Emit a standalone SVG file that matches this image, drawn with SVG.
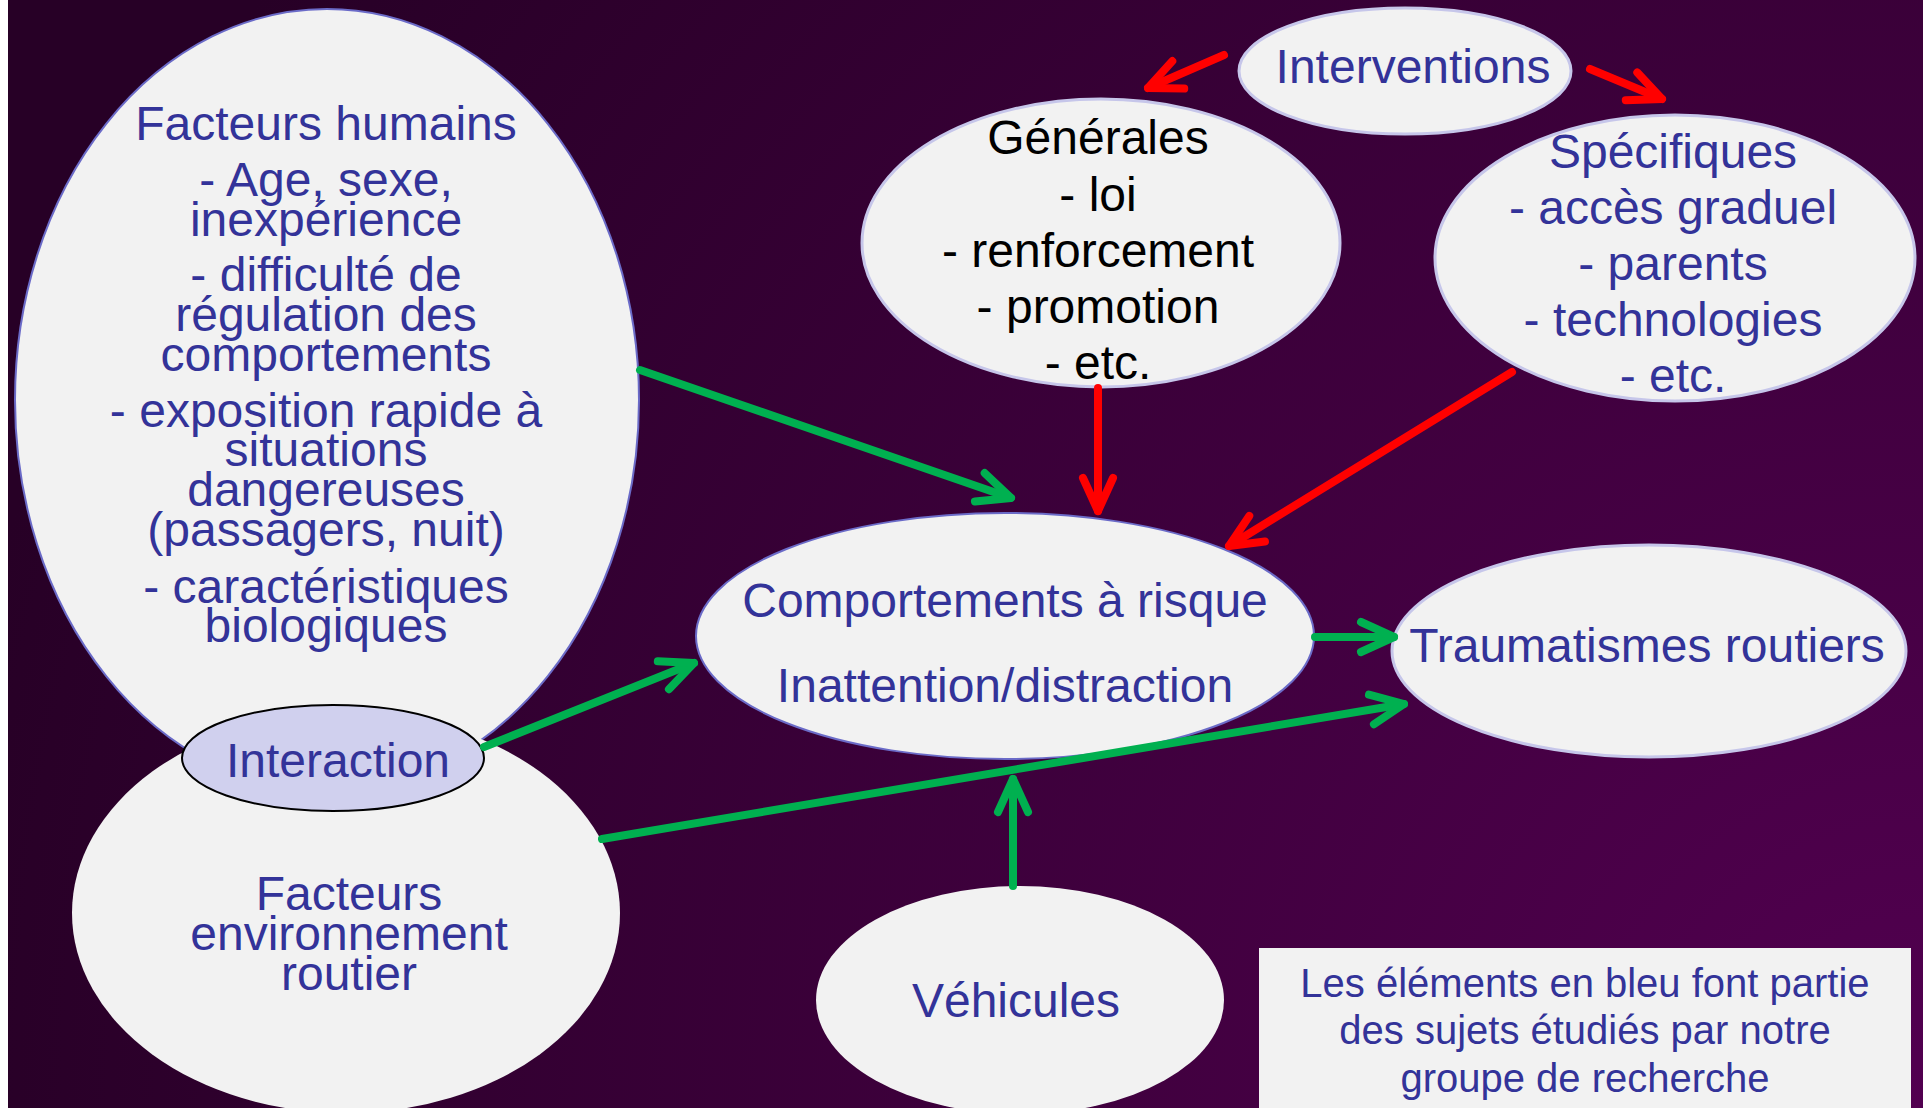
<svg xmlns="http://www.w3.org/2000/svg" width="1923" height="1108" viewBox="0 0 1923 1108">
<defs>
<radialGradient id="bg" gradientUnits="userSpaceOnUse" cx="1923" cy="1108" r="2000">
<stop offset="0" stop-color="#520050"/>
<stop offset="1" stop-color="#270026"/>
</radialGradient>
<marker id="ahG" markerUnits="userSpaceOnUse" orient="auto" markerWidth="80" markerHeight="80" viewBox="-50 -40 80 80" refX="0" refY="0" overflow="visible">
<path d="M-33,-15 L0,0 L-33,15" fill="none" stroke="#00b050" stroke-width="8" stroke-linecap="round" stroke-linejoin="round"/>
</marker>
<marker id="ahR" markerUnits="userSpaceOnUse" orient="auto" markerWidth="80" markerHeight="80" viewBox="-50 -40 80 80" refX="0" refY="0" overflow="visible">
<path d="M-33,-15 L0,0 L-33,15" fill="none" stroke="#ff0000" stroke-width="8" stroke-linecap="round" stroke-linejoin="round"/>
</marker>
</defs>
<style>
text{font-family:"Liberation Sans",Arial,sans-serif;text-anchor:middle;}
.t{font-size:48px;fill:#333399;}
.k{font-size:48px;fill:#000000;}
.lg{font-size:40px;fill:#333399;}
.n{fill:#f2f2f2;}
.sb{stroke:#6b6bc8;stroke-width:2;}
.sl{stroke:#c6c6ea;stroke-width:3;}
.g{fill:none;stroke:#00b050;stroke-width:8;stroke-linecap:round;marker-end:url(#ahG);}
.r{fill:none;stroke:#ff0000;stroke-width:8;stroke-linecap:round;marker-end:url(#ahR);}
</style>
<rect x="0" y="0" width="1923" height="1108" fill="#ffffff"/>
<rect x="8" y="0" width="1915" height="1108" fill="url(#bg)"/>

<g id="facteurs-humains">
<ellipse class="n sb" cx="327" cy="400" rx="312" ry="391"/>
<text class="t" x="326" y="140">Facteurs humains</text>
<text class="t" x="326" y="196">- Age, sexe,</text>
<text class="t" x="326" y="236">inexpérience</text>
<text class="t" x="326" y="291">- difficulté de</text>
<text class="t" x="326" y="331">régulation des</text>
<text class="t" x="326" y="371">comportements</text>
<text class="t" x="326" y="427">- exposition rapide à</text>
<text class="t" x="326" y="466">situations</text>
<text class="t" x="326" y="506">dangereuses</text>
<text class="t" x="326" y="546">(passagers, nuit)</text>
<text class="t" x="326" y="603">- caractéristiques</text>
<text class="t" x="326" y="642">biologiques</text>
</g>

<g id="facteurs-environnement">
<ellipse class="n" cx="346" cy="913" rx="274" ry="200"/>
<text class="t" x="349" y="910">Facteurs</text>
<text class="t" x="349" y="950">environnement</text>
<text class="t" x="349" y="990">routier</text>
</g>

<g id="interaction">
<ellipse cx="333" cy="758" rx="151" ry="53" fill="#d0d0ee" stroke="#000000" stroke-width="2"/>
<text class="t" x="338" y="777">Interaction</text>
</g>

<g id="interventions">
<ellipse class="n sl" cx="1405" cy="71" rx="166" ry="63"/>
<text class="t" x="1413" y="83">Interventions</text>
</g>

<g id="generales">
<ellipse class="n sl" cx="1101" cy="243" rx="239" ry="144"/>
<text class="k" x="1098" y="154">Générales</text>
<text class="k" x="1098" y="211">- loi</text>
<text class="k" x="1098" y="267">- renforcement</text>
<text class="k" x="1098" y="323">- promotion</text>
<text class="k" x="1098" y="379">- etc.</text>
</g>

<g id="specifiques">
<ellipse class="n sl" cx="1675" cy="258" rx="240" ry="143"/>
<text class="t" x="1673" y="168">Spécifiques</text>
<text class="t" x="1673" y="224">- accès graduel</text>
<text class="t" x="1673" y="280">- parents</text>
<text class="t" x="1673" y="336">- technologies</text>
<text class="t" x="1673" y="392">- etc.</text>
</g>

<g id="comportements">
<ellipse class="n sb" cx="1005" cy="636" rx="309" ry="123"/>
<text class="t" x="1005" y="617">Comportements à risque</text>
<text class="t" x="1005" y="702">Inattention/distraction</text>
</g>

<g id="traumatismes">
<ellipse class="n sl" cx="1649" cy="651" rx="257" ry="106"/>
<text class="t" x="1647" y="662">Traumatismes routiers</text>
</g>

<g id="vehicules">
<ellipse class="n" cx="1020" cy="1000" rx="204" ry="114"/>
<text class="t" x="1016" y="1017">Véhicules</text>
</g>

<g id="legende">
<rect x="1259" y="948" width="652" height="170" fill="#f2f2f2"/>
<text class="lg" x="1585" y="997">Les éléments en bleu font partie</text>
<text class="lg" x="1585" y="1044">des sujets étudiés par notre</text>
<text class="lg" x="1585" y="1092">groupe de recherche</text>
</g>

<g id="connecteurs">
<line class="r" x1="1224" y1="55" x2="1148" y2="88"/>
<line class="r" x1="1590" y1="69" x2="1662" y2="99"/>
<line class="r" x1="1098" y1="388" x2="1098" y2="511"/>
<line class="r" x1="1512" y1="372" x2="1229" y2="546"/>
<line class="g" x1="640" y1="370" x2="1011" y2="498"/>
<line class="g" x1="484" y1="747" x2="694" y2="663"/>
<line class="g" x1="602" y1="839" x2="1404" y2="704"/>
<line class="g" x1="1315" y1="637" x2="1394" y2="637"/>
<line class="g" x1="1013" y1="886" x2="1013" y2="779"/>
</g>
</svg>
